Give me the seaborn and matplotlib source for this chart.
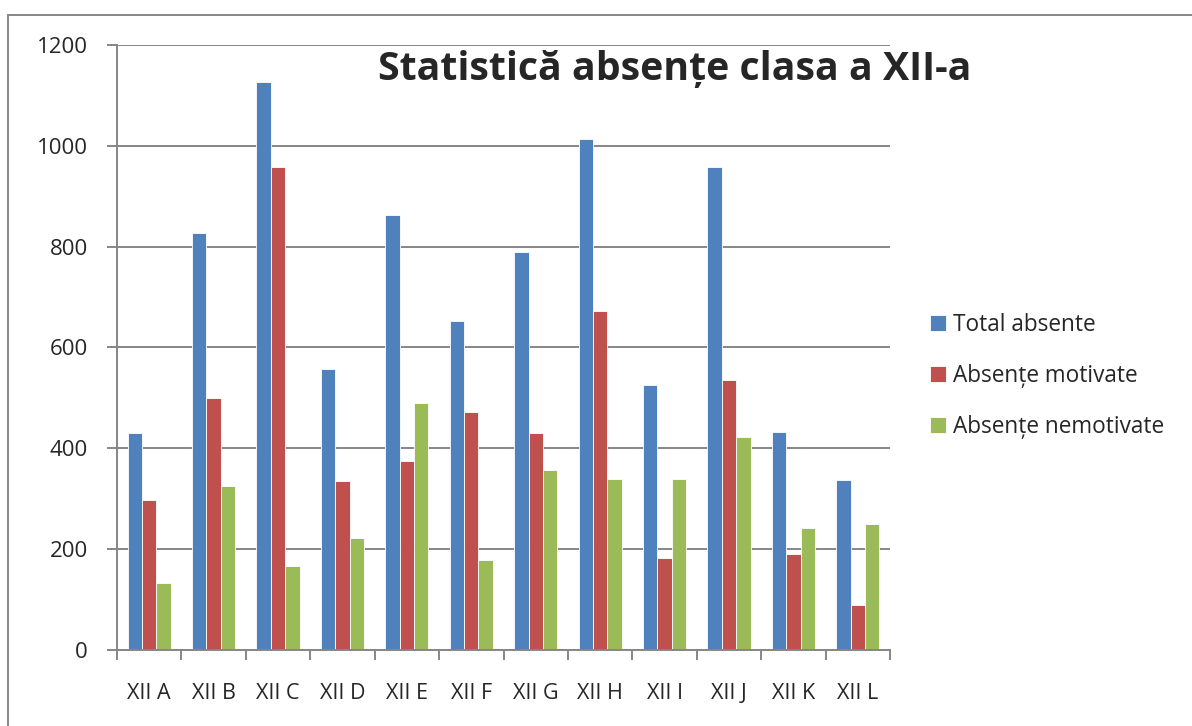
import seaborn as sns
import pandas as pd
import numpy as np
import matplotlib.pyplot as plt
import matplotlib.patches as patches

# Data
clase = ["XII A", "XII B", "XII C", "XII D", "XII E", "XII F",
         "XII G", "XII H", "XII I", "XII J", "XII K", "XII L"]
total_absente = [430, 828, 1126, 558, 863, 652, 789, 1013, 525, 958, 433, 338]
absente_motivate = [298, 500, 959, 335, 374, 472, 431, 672, 183, 535, 190, 89]
absente_nemotivate = [132, 326, 167, 223, 489, 179, 357, 340, 340, 423, 242, 249]
serii = ["Total absente", "Absențe motivate", "Absențe nemotivate"]
culori = ["#4F81BD", "#C0504D", "#9BBB59"]

df = pd.DataFrame({"clasa": clase,
                   serii[0]: total_absente,
                   serii[1]: absente_motivate,
                   serii[2]: absente_nemotivate})
df = df.melt(id_vars="clasa", var_name="serie", value_name="valoare")

sns.set_theme(style="white")
plt.rcParams['font.family'] = ['Open Sans', 'DejaVu Sans']

fig = plt.figure(figsize=(11.92, 7.26), dpi=100)
ax = fig.add_axes([117 / 1192, 76 / 726, 773 / 1192, 605 / 726])

sns.barplot(data=df, x="clasa", y="valoare", hue="serie", order=clase,
            hue_order=serii, palette=culori, width=0.67, gap=0,
            saturation=1, edgecolor="white", linewidth=0.6, ax=ax)

grid_c = "#868686"
ax.set_ylim(0, 1200)
ax.set_xlim(-0.5, len(clase) - 0.5)
ax.set_yticks(np.arange(0, 1201, 200))
ax.yaxis.grid(True, color=grid_c, linewidth=1.4)
ax.set_axisbelow(True)
ax.set_xlabel("")
ax.set_ylabel("")
for s in ["top", "right"]:
    ax.spines[s].set_visible(False)
for s in ["left", "bottom"]:
    ax.spines[s].set_color(grid_c)
    ax.spines[s].set_linewidth(1.4)

ax.tick_params(axis="y", which="major", left=True, length=7, width=1.4,
               color=grid_c, labelsize=16, pad=14)
ax.set_xticks(np.arange(-0.5, len(clase), 1.0), minor=True)
ax.tick_params(axis="x", which="minor", bottom=True, length=7, width=1.4,
               color=grid_c)
ax.tick_params(axis="x", which="major", bottom=False, labelsize=15.5, pad=18)

ax.legend(loc="center left", bbox_to_anchor=(1.025, 0.453), frameon=False,
          fontsize=16.3, handlelength=0.7, handleheight=0.7,
          handletextpad=0.35, labelspacing=1.2)

fig.text(675 / 1192, 1 - 70 / 726, "Statistică absențe clasa a XII-a",
         fontsize=28.3, fontweight="bold", ha="center", va="center")

# chart border
fig.patches.append(patches.Rectangle((8 / 1192, -0.1), 1.2, 1 - 15 / 726 + 0.1,
                                     transform=fig.transFigure, fill=False,
                                     edgecolor=grid_c, linewidth=1.4))

fig.savefig("out.png", dpi=100)
